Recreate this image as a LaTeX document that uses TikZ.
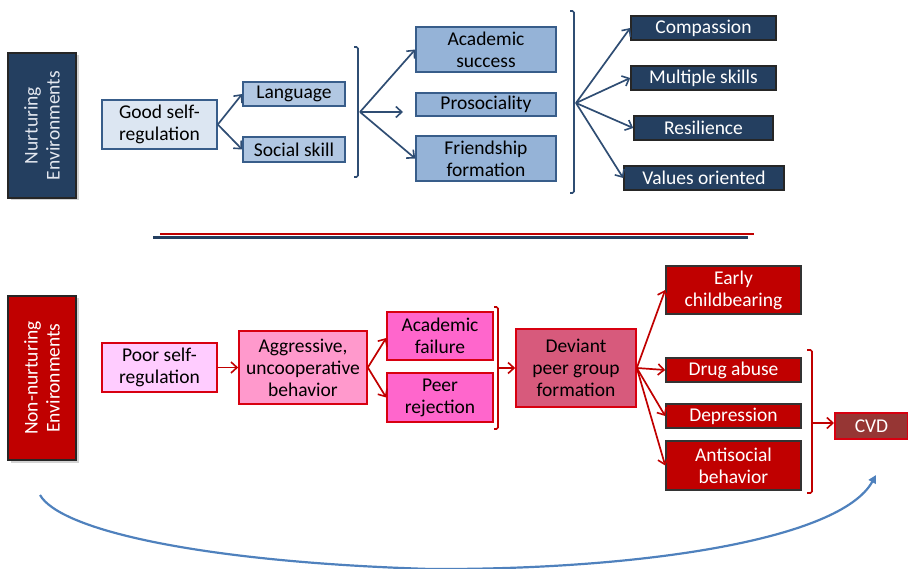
\documentclass[tikz,border=0pt]{standalone}
\usepackage{fontspec}
\setmainfont{Carlito}
\usetikzlibrary{arrows.meta,shadows}
\definecolor{navy}{HTML}{243F60}
\definecolor{lblue}{HTML}{DCE6F2}
\definecolor{mblue}{HTML}{95B3D7}
\definecolor{bline}{HTML}{385D8A}
\definecolor{barrow}{HTML}{2F4D73}
\definecolor{dred}{HTML}{C00000}
\definecolor{rborder}{HTML}{D80010}
\definecolor{pinkA}{HTML}{FFCCFF}
\definecolor{pinkB}{HTML}{FF99CC}
\definecolor{pinkC}{HTML}{FF66CC}
\definecolor{devc}{HTML}{D75A7C}
\definecolor{cvdc}{HTML}{963634}
\definecolor{curvec}{HTML}{4F81BD}
\definecolor{sidetxt}{HTML}{E4E8F0}
\begin{document}
\begin{tikzpicture}[x=1pt,y=-1pt,
  font=\fontsize{19.5}{22}\selectfont,
  bx/.style={draw, rectangle, line width=1.6pt, inner sep=0pt, align=center},
  lb/.style={bx, fill=lblue, draw=bline},
  mb/.style={bx, fill=mblue, draw=bline},
  db/.style={bx, fill=navy, draw=black!85, text=white},
  rb/.style={bx, fill=dred, draw=black!80, text=white},
  pk/.style={bx, draw=rborder},
  side/.style={bx, rotate=90, draw=black!85, text=sidetxt,
    drop shadow={shadow xshift=2.5pt, shadow yshift=-2.5pt, opacity=0.35}},
  barw/.style={draw=barrow, line width=1.7pt, -{Straight Barb[length=6pt,width=11pt,line width=1.6pt]}},
  rarw/.style={draw=dred, line width=1.7pt, -{Straight Barb[length=6pt,width=11pt,line width=1.6pt]}},
  brk/.style={line width=1.6pt, rounded corners=1.5pt}
]
\useasboundingbox (0,0) rectangle (908,569);

% ---------- top half ----------
\node[side, fill=navy, minimum width=145pt, minimum height=68pt] (nurt) at (42,125.5) {Nurturing\\Environments};
\node[lb, minimum width=115pt, minimum height=49pt] (good) at (159.5,124.5) {Good self-\\regulation};
\node[mb, fill=lblue!40!mblue, minimum width=102pt, minimum height=24pt] (lang) at (294,94) {Language};
\node[mb, fill=lblue!40!mblue, minimum width=102pt, minimum height=25pt] (soc) at (294,149.5) {Social skill};
\node[mb, minimum width=140pt, minimum height=45pt] (acad) at (486,49.5) {Academic\\success};
\node[mb, minimum width=140pt, minimum height=23pt] (pros) at (486,104.5) {Prosociality};
\node[mb, minimum width=140pt, minimum height=45pt] (friend) at (486,158.5) {Friendship\\formation};
\node[db, minimum width=145pt, minimum height=24pt] (comp) at (703.5,28) {Compassion};
\node[db, minimum width=145pt, minimum height=24pt] (mult) at (703.5,78) {Multiple skills};
\node[db, minimum width=139pt, minimum height=24pt] (resil) at (703.5,128) {Resilience};
\node[db, minimum width=160pt, minimum height=24pt] (vals) at (704,178) {Values oriented};

\draw[brk, draw=barrow] (354,47) -- (358,47) -- (358,177) -- (354,177);
\coordinate (b1) at (360,112);
\draw[brk, draw=barrow] (570,11) -- (574,11) -- (574,193) -- (570,193);
\coordinate (b2) at (576,103);
\coordinate (prosin) at (403,112);

\draw[barw] (good.east) -- (lang.west);
\draw[barw] (good.east) -- (soc.west);
\draw[barw] (b1) -- (acad.west);
\draw[barw] (b1) -- (prosin);
\draw[barw] (b1) -- (friend.west);
\draw[barw] (b2) -- (comp.west);
\draw[barw] (b2) -- (mult.west);
\draw[barw] (b2) -- (resil.west);
\draw[barw] (b2) -- (vals.west);

% ---------- divider ----------
\coordinate (r1) at (160,234); \coordinate (r2) at (754,234);
\coordinate (n1) at (153,237.5); \coordinate (n2) at (748,237.5);
\draw[dred, line width=2.2pt] (r1) -- (r2);
\draw[navy, line width=2.2pt] (n1) -- (n2);

% ---------- bottom half ----------
\node[side, fill=dred, text=white, minimum width=164pt, minimum height=68pt] (nonn) at (42,378) {Non-nurturing\\Environments};
\node[pk, fill=pinkA, minimum width=115pt, minimum height=49pt] (poor) at (159.5,367.5) {Poor self-\\regulation};
\node[pk, fill=pinkB, minimum width=128pt, minimum height=73pt] (aggr) at (303,367.5) {Aggressive,\\uncooperative\\behavior};
\node[pk, fill=pinkC, minimum width=106pt, minimum height=48pt] (acf) at (440,336) {Academic\\failure};
\node[pk, fill=pinkC, minimum width=106pt, minimum height=49pt] (peer) at (440,397.5) {Peer\\rejection};
\node[pk, fill=devc, minimum width=120pt, minimum height=78pt] (dev) at (576,368) {Deviant\\peer group\\formation};
\node[rb, minimum width=135pt, minimum height=48pt] (early) at (733.5,290) {Early\\childbearing};
\node[rb, minimum width=135pt, minimum height=24pt] (drug) at (733.5,370) {Drug abuse};
\node[rb, minimum width=135pt, minimum height=24pt] (depr) at (733.5,416) {Depression};
\node[rb, minimum width=135pt, minimum height=49pt] (anti) at (733.5,465.5) {Antisocial\\behavior};
\node[bx, fill=cvdc, draw=rborder, text=white, minimum width=73pt, minimum height=26pt] (cvd) at (871.5,426) {CVD};

\draw[brk, draw=dred] (494,307) -- (498,307) -- (498,429) -- (494,429);
\coordinate (b3) at (499,368);
\draw[brk, draw=dred] (807,350) -- (812,350) -- (812,493) -- (807,493);
\coordinate (b4) at (813,423);
\coordinate (cvdin) at (834,423);

\draw[rarw] (poor.east) -- (aggr.west);
\draw[rarw] (aggr.east) -- (acf.west |- 0,338);
\draw[rarw] (aggr.east) -- (peer.west);
\draw[rarw] (b3) -- (dev.west);
\draw[rarw] (dev.east) -- (early.west);
\draw[rarw] (dev.east) -- (drug.west);
\draw[rarw] (dev.east) -- (depr.west);
\draw[rarw] (dev.east) -- (anti.west);
\draw[rarw] (b4) -- (cvdin);

% ---------- curved arrow ----------
\coordinate (cs) at (40,495);
\coordinate (cm) at (430,569);
\coordinate (ce) at (876,475);
\draw[curvec, line width=2.2pt, -{Triangle[length=8pt,width=8pt]}]
  (cs) .. controls (60,530) and (200,562) .. (cm)
       .. controls (640,570) and (840,540) .. (ce);
\end{tikzpicture}
\end{document}
